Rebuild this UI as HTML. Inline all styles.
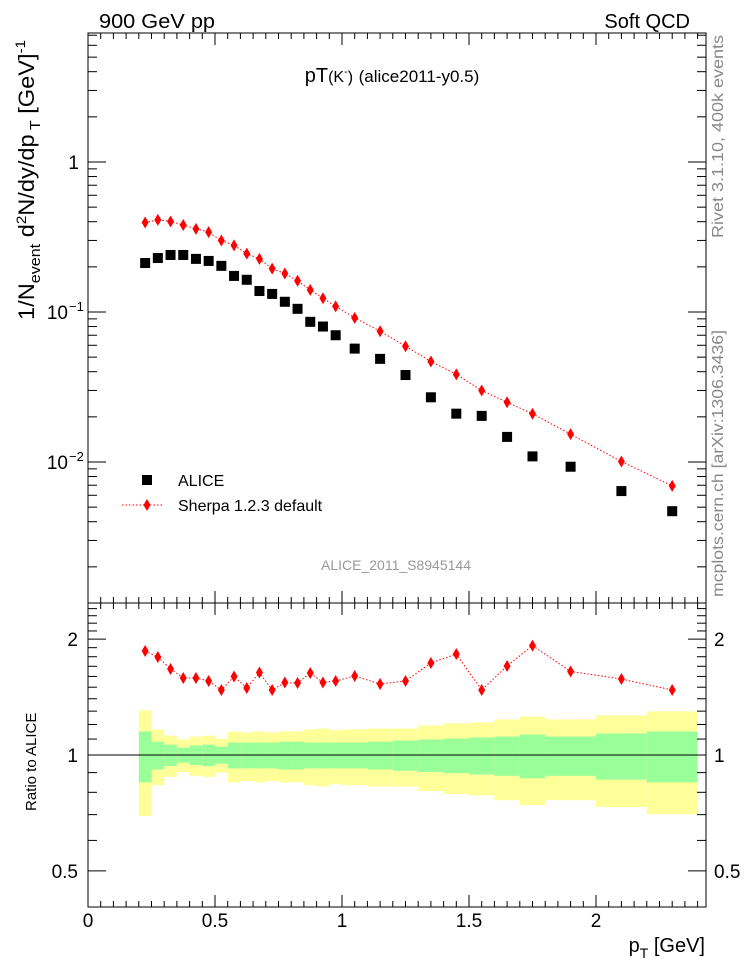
<!DOCTYPE html>
<html><head><meta charset="utf-8">
<style>
html,body{margin:0;padding:0;background:#fff;}
svg{display:block;font-family:"Liberation Sans",sans-serif;}
</style></head>
<body>
<svg id="chart" width="746" height="972" viewBox="0 0 746 972" xmlns="http://www.w3.org/2000/svg">
<text x="99" y="28" font-size="20" textLength="116" lengthAdjust="spacingAndGlyphs">900 GeV pp</text>
<text x="690" y="28" font-size="20" text-anchor="end">Soft QCD</text>
<text x="392" y="82" font-size="20" text-anchor="middle">pT<tspan font-size="16">(K</tspan><tspan font-size="11" dy="-7">-</tspan><tspan font-size="16" dy="7">)</tspan> <tspan font-size="17">(alice2011-y0.5)</tspan></text>
<text transform="translate(34,320) rotate(-90)" font-size="22" textLength="280" lengthAdjust="spacingAndGlyphs">1/N<tspan font-size="15" dy="6">event</tspan><tspan dy="-6"> d</tspan><tspan font-size="14" dy="-8">2</tspan><tspan dy="8">N/dy/dp</tspan><tspan font-size="15" dy="6"> T</tspan><tspan dy="-6">  [GeV]</tspan><tspan font-size="14" dy="-9">-1</tspan></text>
<text transform="translate(723,238) rotate(-90)" font-size="16" fill="#888" textLength="203" lengthAdjust="spacingAndGlyphs">Rivet 3.1.10,  400k events</text>
<text transform="translate(723,597) rotate(-90)" font-size="16" fill="#888" textLength="267" lengthAdjust="spacingAndGlyphs">mcplots.cern.ch [arXiv:1306.3436]</text>
<text x="396" y="570" font-size="14" fill="#999" text-anchor="middle">ALICE_2011_S8945144</text>
<text transform="translate(36,811) rotate(-90)" font-size="15">Ratio to ALICE</text>
<text x="705" y="952" font-size="20" text-anchor="end">p<tspan font-size="14" dy="6">T</tspan><tspan dy="-6"> [GeV]</tspan></text>
<g id="bands"></g>
<g id="marks"></g>
<g id="axes"></g>
<g>
  <rect x="142" y="475" width="10" height="10" fill="#000"/>
  <text x="178" y="486" font-size="16">ALICE</text>
  <line x1="122" y1="505" x2="162" y2="505" stroke="red" stroke-dasharray="1.5,2"/>
  <polygon points="147,499 150.5,505 147,511 143.5,505" fill="red"/>
  <text x="178" y="511" font-size="16">Sherpa 1.2.3 default</text>
</g>
</svg>
<script>
const binLo = [0.2,0.25,0.3,0.35,0.4,0.45,0.5,0.55,0.6,0.65,0.7,0.75,0.8,0.85,0.9,0.95,1.0,1.1,1.2,1.3,1.4,1.5,1.6,1.7,1.8,2.0,2.2];
const binHi = [0.25,0.3,0.35,0.4,0.45,0.5,0.55,0.6,0.65,0.7,0.75,0.8,0.85,0.9,0.95,1.0,1.1,1.2,1.3,1.4,1.5,1.6,1.7,1.8,2.0,2.2,2.4];
const aliceValues = [0.212,0.229,0.240,0.240,0.226,0.219,0.203,0.174,0.164,0.138,0.132,0.117,0.105,0.086,0.080,0.070,0.057,0.0487,0.038,0.0270,0.0210,0.0203,0.0147,0.0109,0.0093,0.0064,0.0047];
const ratioValues = [1.862,1.797,1.673,1.585,1.585,1.557,1.475,1.599,1.493,1.638,1.475,1.543,1.538,1.633,1.543,1.557,1.604,1.529,1.557,1.734,1.829,1.475,1.703,1.924,1.648,1.575,1.475];
const totalErr = [0.306,0.165,0.123,0.097,0.117,0.123,0.101,0.151,0.144,0.151,0.144,0.151,0.151,0.165,0.172,0.160,0.165,0.172,0.172,0.193,0.208,0.215,0.237,0.259,0.237,0.267,0.298];
const statErr = [0.151,0.083,0.064,0.045,0.058,0.064,0.051,0.077,0.077,0.077,0.077,0.083,0.083,0.077,0.077,0.077,0.077,0.083,0.090,0.097,0.103,0.110,0.117,0.130,0.117,0.137,0.151];
const xTicks = [0,0.5,1,1.5,2];
const xTickLabels = ["0","0.5","1","1.5","2"];

const NS="http://www.w3.org/2000/svg";
const L=88,R=706,T1=33,B1=603,T2=603,B2=907;
const xs=v=>L+254*v;
const ym=v=>162-150*Math.log10(v);
const yr=v=>755-385*Math.log10(v);
function mk(tag,attrs,parent){const e=document.createElementNS(NS,tag);for(const k in attrs)e.setAttribute(k,attrs[k]);parent.appendChild(e);return e;}
const bands=document.getElementById('bands'),marks=document.getElementById('marks'),axes=document.getElementById('axes');
const sherpaValues=aliceValues.map((a,i)=>a*ratioValues[i]);
const centers=binLo.map((l,i)=>(l+binHi[i])/2);

for(let i=0;i<binLo.length;i++){
  const x0=xs(binLo[i]),x1=xs(binHi[i]);
  const y=mk('rect',{x:x0,y:yr(1+totalErr[i]),width:x1-x0,height:yr(1-totalErr[i])-yr(1+totalErr[i]),fill:'#ffff99'},bands);
  
  
  const g=mk('rect',{x:x0,y:yr(1+statErr[i]),width:x1-x0,height:yr(1-statErr[i])-yr(1+statErr[i]),fill:'#99ff99'},bands);
  
  
}
const ref=mk('line',{x1:L,x2:R,y1:yr(1),y2:yr(1),stroke:'#000','stroke-width':1},bands);



const sl=mk('polyline',{points:centers.map((c,i)=>xs(c)+','+ym(sherpaValues[i])).join(' '),fill:'none',stroke:'red','stroke-dasharray':'1.5,2'},marks);


const rl=mk('polyline',{points:centers.map((c,i)=>xs(c)+','+yr(ratioValues[i])).join(' '),fill:'none',stroke:'red','stroke-dasharray':'1.5,2'},marks);


function diamond(x,y){return `${x},${y-6} ${x+3.5},${y} ${x},${y+6} ${x-3.5},${y}`;}
centers.forEach((c,i)=>{
  const x=xs(c);
  const s=mk('rect',{x:x-5,y:ym(aliceValues[i])-5,width:10,height:10,fill:'#000'},marks);
  
  
  const d=mk('polygon',{points:diamond(x,ym(sherpaValues[i])),fill:'red'},marks);
  
  
  const r=mk('polygon',{points:diamond(x,yr(ratioValues[i])),fill:'red'},marks);
  
  
});

[[T1,B1],[T2,B2]].forEach(([t,b])=>{
  const f=mk('rect',{x:L,y:t,width:R-L,height:b-t,fill:'none',stroke:'#000','stroke-width':1},axes);
  
  
});
function tk(x1,y1,x2,y2){const t=mk('line',{x1,y1,x2,y2,stroke:'#000','stroke-width':1},axes);}
for(let k=0;k*0.05<=2.43;k++){
  const v=k*0.05,x=xs(v),maj=(k%10===0),len=maj?12:6;
  [[T1,1],[B1,-1],[T2,1],[B2,-1]].forEach(([y,dir])=>tk(x,y,x,y+dir*len));
}
xTicks.forEach((v,i)=>{
  const t=mk('text',{x:xs(v),y:927,'font-size':19,'text-anchor':'middle'},axes);
  t.textContent=xTickLabels[i];
  
  
});
for(let e=-3;e<=0;e++){for(let m=1;m<=9;m++){
  const v=m*Math.pow(10,e),y=ym(v);if(y<T1||y>B1)continue;
  const len=m===1?18:9;tk(L,y,L+len,y);tk(R,y,R-len,y);
}}
[[1,"1"],[0.1,"10"],[0.01,"10"]].forEach(([v,s],i)=>{
  const t=mk('text',{x:i===0?79:68,y:ym(v)+7,'font-size':19,'text-anchor':'end'},axes);
  t.textContent=s;
  
  
  if(i>0){const sup=mk('text',{x:69,y:ym(v)-1,'font-size':13},axes);sup.textContent=i===1?"−1":"−2";
  
  }
});
[0.5,0.6,0.7,0.8,0.9,1,1.1,1.2,1.3,1.4,1.5,1.6,1.7,1.8,1.9,2,2.1,2.2,2.3,2.4].forEach(v=>{
  const y=yr(v),maj=(v===0.5||v===1||v===2),len=maj?18:9;tk(L,y,L+len,y);tk(R,y,R-len,y);
});
[[2,"2"],[1,"1"],[0.5,"0.5"]].forEach(([v,s])=>{
  const a=mk('text',{x:78,y:yr(v)+7,'font-size':19,'text-anchor':'end'},axes);a.textContent=s;
  
  
  const b=mk('text',{x:714,y:yr(v)+7,'font-size':19},axes);b.textContent=s;
  
  
});
</script>
</body></html>
